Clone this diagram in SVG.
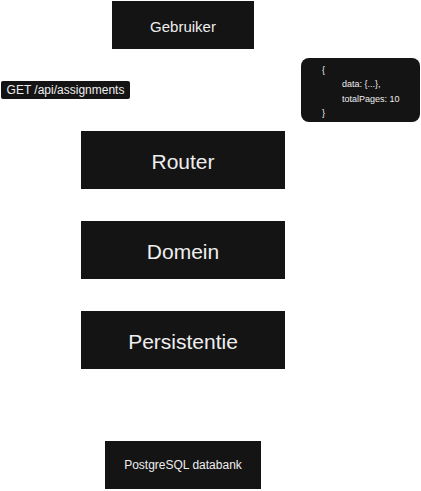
<svg xmlns="http://www.w3.org/2000/svg" width="421" height="491" viewBox="0 0 421 491">
<style>
.box{fill:#141414}
.t{fill:#eeeeee;font-family:"Liberation Sans",Arial,sans-serif;text-anchor:middle;dominant-baseline:central}
.j{fill:#eeeeee;font-family:"Liberation Sans",Arial,sans-serif;font-size:9px;dominant-baseline:central}
</style>
<rect width="421" height="491" fill="#ffffff"/>
<g id="gebruiker"><rect class="box" x="112" y="1" width="142" height="48"/><text class="t" x="183" y="26" font-size="15">Gebruiker</text></g>
<g id="request"><rect class="box" x="1" y="81" width="129" height="18" rx="2"/><text class="t" x="65.5" y="90" font-size="12">GET /api/assignments</text></g>
<g id="response"><rect class="box" x="301" y="58" width="119" height="64" rx="8"/>
<text class="j" x="322" y="70">{</text>
<text class="j" x="342" y="84">data: {...},</text>
<text class="j" x="342" y="99">totalPages: 10</text>
<text class="j" x="322" y="113">}</text></g>
<g id="router"><rect class="box" x="81" y="131" width="204" height="58"/><text class="t" x="183" y="161" font-size="21">Router</text></g>
<g id="domein"><rect class="box" x="81" y="221" width="204" height="58"/><text class="t" x="183" y="251" font-size="21">Domein</text></g>
<g id="persistentie"><rect class="box" x="81" y="311" width="204" height="58"/><text class="t" x="183" y="341" font-size="21">Persistentie</text></g>
<g id="postgres"><rect class="box" x="105" y="441" width="156" height="48"/><text class="t" x="183" y="465" font-size="12">PostgreSQL databank</text></g>
<g id="connectors"></g>
</svg>
